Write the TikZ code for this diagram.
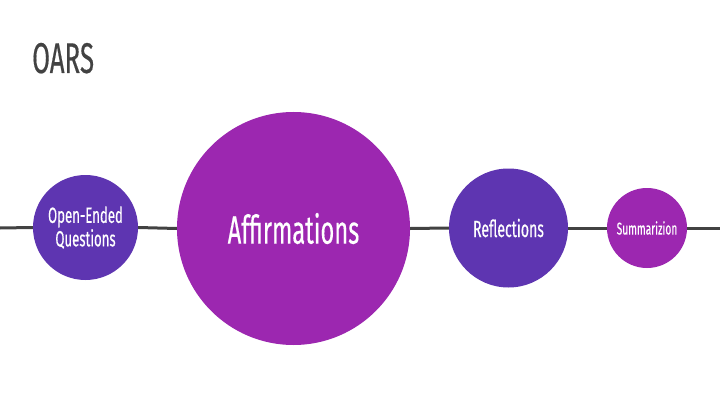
\documentclass[tikz,border=0pt]{standalone}
\usepackage{fontspec}
\setmainfont[FakeStretch=0.6,FakeBold=0.3]{Fira Sans}
\definecolor{deepp}{HTML}{5E35B1}
\definecolor{purp}{HTML}{9C27B0}
\definecolor{linegray}{HTML}{424242}
\begin{document}
\begin{tikzpicture}[x=1pt,y=1pt,
  bubble/.style={circle,inner sep=0pt,text=white,align=center},
  conn/.style={draw=linegray,line width=3pt}]
\useasboundingbox (0,0) rectangle (720,405);
\fill[white] (0,0) rectangle (720,405);
\node[anchor=base west,text=linegray,font=\fontsize{43}{46}\selectfont,inner sep=0pt] (title) at (32,332) {OARS};
\coordinate (L) at (0,177);
\coordinate (R) at (720,177);
\node[bubble,fill=deepp,minimum size=105pt,font=\fontsize{22}{23.5}\selectfont] (o) at (85.5,177.5) {Open-Ended\\Questions};
\node[bubble,fill=purp,minimum size=233pt,font=\fontsize{39.5}{42}\selectfont] (a) at (293.5,176.5) {Affirmations};
\node[bubble,fill=deepp,minimum size=119pt,font=\fontsize{23.5}{26}\selectfont] (r) at (508.5,177) {Reflections};
\node[bubble,fill=purp,minimum size=80pt,font=\fontsize{17}{19}\selectfont] (s) at (647,177) {Summarizion};
\path[conn] (L) -- (o.west);
\path[conn] (o.east) -- (a.west);
\path[conn] (a.east) -- (r.west);
\path[conn] (r.east) -- (s.west);
\path[conn] (s.east) -- (R);
\end{tikzpicture}
\end{document}
